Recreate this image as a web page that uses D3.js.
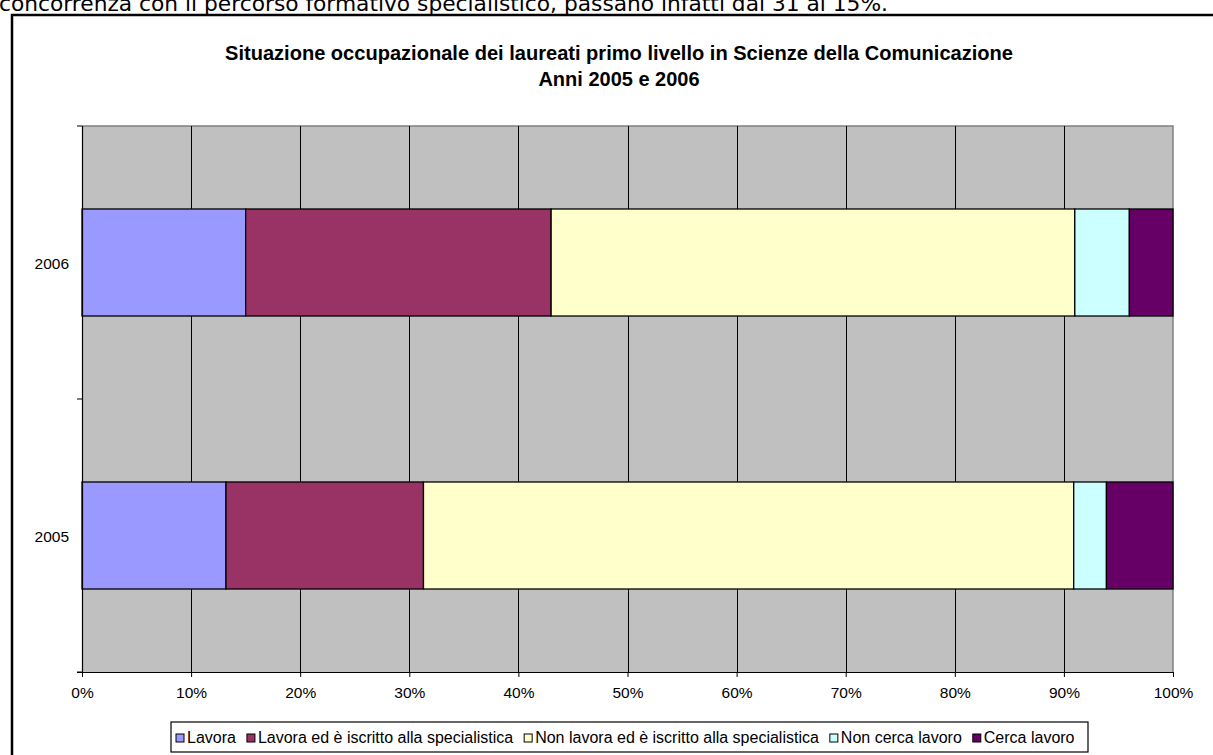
<!DOCTYPE html>
<html><head><meta charset="utf-8">
<script src="https://cdn.jsdelivr.net/npm/d3@7"></script>
<style>body{margin:0;background:#fff;}svg{display:block;}</style>
</head><body>
<script>
const years = ["2006", "2005"];
const seriesNames = ["Lavora", "Lavora ed è iscritto alla specialistica", "Non lavora ed è iscritto alla specialistica", "Non cerca lavoro", "Cerca lavoro"];
const colors = ["#9999FF", "#993366", "#FFFFCC", "#CCFFFF", "#660066"];
const lavora = [15, 13.2];
const lavoraIscritto = [28, 18.1];
const nonLavoraIscritto = [48, 59.6];
const nonCerca = [5, 3.0];
const cerca = [4, 6.1];
const xTicks = [0, 0.1, 0.2, 0.3, 0.4, 0.5, 0.6, 0.7, 0.8, 0.9, 1];

const W = 1213, H = 755;
const svg = d3.select("body").append("svg").attr("width", W).attr("height", H);

// Top text (cut off from document, as in the original page)
svg.append("text").attr("x", -1).attr("y", 11)
  .attr("font-family", "DejaVu Sans, Verdana, sans-serif").attr("font-size", 21)
  .attr("fill", "#000").attr("textLength", 889).attr("lengthAdjust", "spacingAndGlyphs")
  .text("concorrenza con il percorso formativo specialistico, passano infatti dal 31 al 15%.");

// Chart frame
svg.append("rect").attr("x", 12).attr("y", 15).attr("width", W + 20).attr("height", H + 20)
  .attr("fill", "#fff").attr("stroke", "#000").attr("stroke-width", 2.5);

// Title
const title = svg.append("text").attr("text-anchor", "middle")
  .attr("font-family", "Liberation Sans, Arial, sans-serif").attr("font-weight", "bold")
  .attr("font-size", 20).attr("fill", "#000");
title.append("tspan").attr("x", 619).attr("y", 60).attr("textLength", 788).attr("lengthAdjust", "spacingAndGlyphs")
  .text("Situazione occupazionale dei  laureati primo livello in Scienze della Comunicazione");
title.append("tspan").attr("x", 619).attr("y", 86).text("Anni 2005 e 2006");

const L = 82, R = 1173, T = 126, B = 672;
const x = d3.scaleLinear().domain([0, 1]).range([L, R]);
const y = d3.scaleBand().domain(years).range([T, B]).paddingInner(0.608).paddingOuter(0.304);

// Plot background
svg.append("rect").attr("x", L).attr("y", T).attr("width", R - L).attr("height", B - T).attr("fill", "#C0C0C0");
svg.append("path").attr("d", `M${L},${T}H${R}V${B}`).attr("fill", "none").attr("stroke", "#808080").attr("stroke-width", 1.5);

// Gridlines
svg.append("g").selectAll("line").data(xTicks.slice(1, -1)).join("line")
  .attr("x1", d => Math.round(x(d)) + 0.5).attr("x2", d => Math.round(x(d)) + 0.5)
  .attr("y1", T).attr("y2", B).attr("stroke", "#000").attr("stroke-width", 1);

// Stacked data
const table = years.map((yr, i) => ({
  year: yr,
  s0: lavora[i], s1: lavoraIscritto[i], s2: nonLavoraIscritto[i], s3: nonCerca[i], s4: cerca[i]
}));
const keys = ["s0", "s1", "s2", "s3", "s4"];
const stack = d3.stack().keys(keys).offset(d3.stackOffsetExpand)(table);

svg.append("g").selectAll("g").data(stack).join("g")
  .attr("fill", (d, i) => colors[i])
  .selectAll("rect").data(d => d).join("rect")
  .attr("x", d => x(d[0])).attr("width", d => x(d[1]) - x(d[0]))
  .attr("y", d => y(d.data.year)).attr("height", y.bandwidth())
  .attr("stroke", "#000").attr("stroke-width", 1.3);

const lblFont = "Liberation Sans, Arial, sans-serif";

// Y axis
const yAxisG = svg.append("g");
yAxisG.append("line").attr("x1", L + 0.5).attr("x2", L + 0.5).attr("y1", T).attr("y2", B).attr("stroke", "#000").attr("stroke-width", 1.2);
const yTickPos = [T, (T + B) / 2, B];
yAxisG.selectAll(".yt").data(yTickPos).join("line")
  .attr("x1", L - 5).attr("x2", L).attr("y1", d => d).attr("y2", d => d)
  .attr("stroke", "#000");
yAxisG.selectAll("text").data(years).join("text")
  .attr("x", 69).attr("y", d => y(d) + y.bandwidth() / 2 + 6)
  .attr("text-anchor", "end").attr("font-family", lblFont)
  .attr("font-size", 15.5).attr("fill", "#000").text(d => d);

// X axis
const xAxis = d3.axisBottom(x).tickValues(xTicks).tickFormat(d3.format(".0%")).tickSize(5).tickSizeOuter(0);
const xg = svg.append("g").attr("transform", `translate(0,${B})`).call(xAxis);
xg.select(".domain").attr("stroke", "#000").attr("stroke-width", 1.2);
xg.selectAll(".tick line").attr("stroke", "#000");
xg.selectAll("text").attr("font-family", lblFont).attr("font-size", 15.5)
  .attr("fill", "#000").attr("y", 12).attr("dy", "0.9em");
svg.append("line").attr("x1", L - 5).attr("x2", L).attr("y1", B + 0.5).attr("y2", B + 0.5).attr("stroke", "#000");

// Legend
const lg = svg.append("g");
lg.append("rect").attr("x", 171).attr("y", 722).attr("width", 917).attr("height", 30)
  .attr("fill", "#fff").attr("stroke", "#000").attr("stroke-width", 1.2);
let lx = 176;
seriesNames.forEach((name, i) => {
  lg.append("rect").attr("x", lx).attr("y", 734).attr("width", 8).attr("height", 8)
    .attr("fill", colors[i]).attr("stroke", "#000").attr("stroke-width", 1);
  const t = lg.append("text").attr("x", lx + 11).attr("y", 743)
    .attr("font-family", lblFont).attr("font-size", 16)
    .attr("fill", "#000").text(name);
  lx += 11 + t.node().getComputedTextLength() + 11;
});
</script>
</body></html>
